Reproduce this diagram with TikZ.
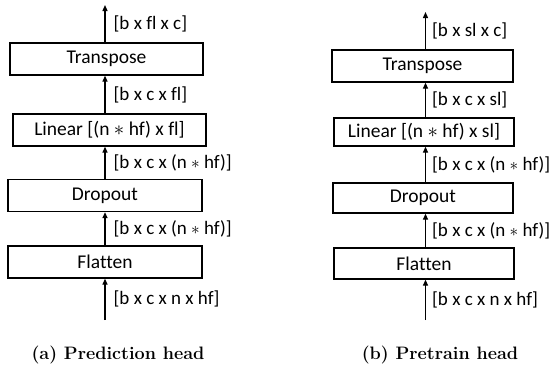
\documentclass[tikz,border=0pt]{standalone}
\usepackage{fontspec}
\newfontfamily\boxfont[Ligatures=NoCommon]{Carlito}
\usetikzlibrary{arrows.meta}

\begin{document}
\begin{tikzpicture}[x=1pt, y=-1pt,
    layer/.style={draw, line width=1.3pt, minimum height=32pt, inner sep=0pt,
        font=\boxfont\fontsize{19.5}{21}\selectfont},
    flow/.style={-{Triangle[length=6pt,width=5pt]}, line width=1.3pt},
    dimlabel/.style={right, inner sep=0pt, xshift=8pt,
        font=\boxfont\fontsize{19}{21}\selectfont},
    headcap/.style={font=\bfseries\fontsize{18}{20}\selectfont}]

    % Fix the page to the size of the reference
    \useasboundingbox (0,0) rectangle (551,375);

    % Left column: the prediction head
    \node[layer, minimum width=194pt] (pflat) at (105,262) {Flatten};
    \node[layer, minimum width=194pt] (pdrop) at (105,195.5) {Dropout};
    \node[layer, minimum width=193pt] (plin) at (109.5,130) {Linear [(n $\ast$ hf) x fl]};
    \node[layer, minimum width=193pt] (ptrans) at (106.5,59) {Transpose};

    % Free ends of the input and output arrows
    \coordinate (pin) at (105,320);
    \coordinate (pout) at (105,5);

    % Arrows with the tensor shapes beside them
    \draw[flow] (pin) -- node[dimlabel] (pl1) {[b x c x n x hf]} (pflat);
    \draw[flow] (pflat) -- node[dimlabel] (pl2) {[b x c x (n $\ast$ hf)]} (pdrop);
    \draw[flow] (pdrop.north) -- node[dimlabel] (pl3) {[b x c x (n $\ast$ hf)]} (pdrop.north |- plin.south);
    \draw[flow] (pdrop.north |- plin.north) -- node[dimlabel] (pl4) {[b x c x fl]} (pdrop.north |- ptrans.south);
    \draw[flow] (pdrop.north |- ptrans.north) -- node[dimlabel] (pl5) {[b x fl x c]} (pout);

    % Right column: the pretrain head
    \node[layer, minimum width=180pt, minimum height=31pt] (rflat) at (424,263.5) {Flatten};
    \node[layer, minimum width=180pt, minimum height=30pt] (rdrop) at (423,198) {Dropout};
    \node[layer, minimum width=180pt, minimum height=28pt] (rlin) at (424,132) {Linear [(n $\ast$ hf) x sl]};
    \node[layer, minimum width=181pt] (rtrans) at (422.5,66) {Transpose};

    % Free ends of the input and output arrows
    \coordinate (rin) at (425.5,320);
    \coordinate (rout) at (425.5,12);

    % Arrows with the tensor shapes beside them (set a little closer, the column ends at the edge)
    \begin{scope}[dimlabel/.append style={xshift=-2pt}]
    \draw[flow] (rin) -- node[dimlabel] (rl1) {[b x c x n x hf]} (rin |- rflat.south);
    \draw[flow] (rin |- rflat.north) -- node[dimlabel] (rl2) {[b x c x (n $\ast$ hf)]} (rin |- rdrop.south);
    \draw[flow] (rin |- rdrop.north) -- node[dimlabel] (rl3) {[b x c x (n $\ast$ hf)]} (rin |- rlin.south);
    \draw[flow] (rin |- rlin.north) -- node[dimlabel] (rl4) {[b x c x sl]} (rin |- rtrans.south);
    \draw[flow] (rin |- rtrans.north) -- node[dimlabel] (rl5) {[b x sl x c]} (rout);
    \end{scope}

    % Sub-captions
    \node[headcap] (pcap) at (118,355) {(a) Prediction head};
    \node[headcap] (rcap) at (440,355) {(b) Pretrain head};

\end{tikzpicture}
\end{document}
